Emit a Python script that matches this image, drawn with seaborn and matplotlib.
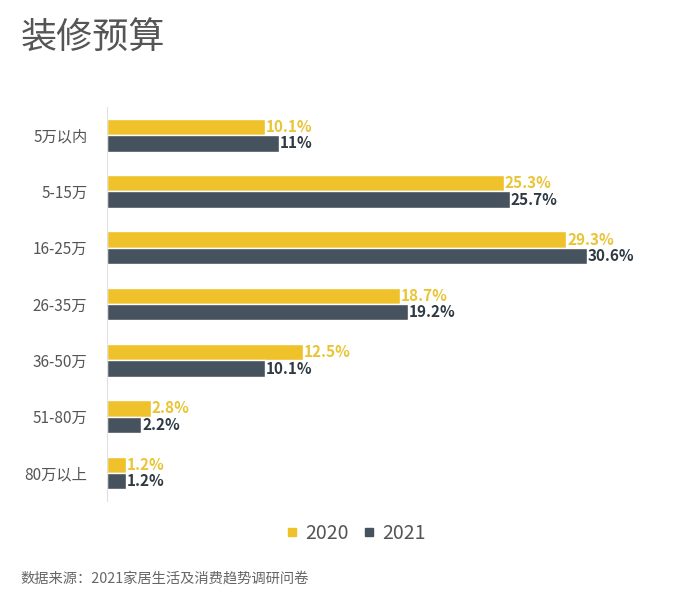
import matplotlib
matplotlib.use("Agg")
import matplotlib.pyplot as plt
import seaborn as sns
import pandas as pd

categories = ["5万以内", "5-15万", "16-25万", "26-35万", "36-50万", "51-80万", "80万以上"]
v2020 = [10.1, 25.3, 29.3, 18.7, 12.5, 2.8, 1.2]
v2021 = [11, 25.7, 30.6, 19.2, 10.1, 2.2, 1.2]
label2020 = ["10.1%", "25.3%", "29.3%", "18.7%", "12.5%", "2.8%", "1.2%"]
label2021 = ["11%", "25.7%", "30.6%", "19.2%", "10.1%", "2.2%", "1.2%"]
years = ["2020", "2021"]

sns.set_style("white")
plt.rcParams['font.family'] = ['Noto Sans CJK SC', 'DejaVu Sans']

df = pd.DataFrame({
    "cat": categories * 2,
    "val": v2020 + v2021,
    "year": [years[0]] * len(categories) + [years[1]] * len(categories),
})

c_yellow = "#EFC12A"
c_dark = "#46525D"

fig = plt.figure(figsize=(6.76, 6.03), dpi=100)
ax = fig.add_axes([0.158, 0.169, 0.812, 0.6535])
sns.barplot(data=df, y="cat", x="val", hue="year", order=categories,
            palette=[c_yellow, c_dark], width=0.58, gap=0.0, ax=ax,
            legend=False, saturation=1, errorbar=None)

ax.set_xlim(0, 35)
ax.set_ylim(6.5, -0.5)
ax.set_xlabel("")
ax.set_ylabel("")
ax.set_xticks([])
for s in ["top", "right", "bottom"]:
    ax.spines[s].set_visible(False)
ax.spines["left"].set_color("#e0e0e0")
ax.spines["left"].set_linewidth(0.8)
ax.tick_params(axis="y", length=0, pad=14, labelsize=11, labelcolor="#555555")

for cont, labels, col in zip(ax.containers, [label2020, label2021], ["#E9C435", "#2E3A44"]):
    for bar, lab in zip(cont, labels):
        ax.text(bar.get_width() + 0.05, bar.get_y() + bar.get_height() / 2, lab,
                va="center", ha="left", fontsize=11, fontweight="bold", color=col)

fig.text(0.03, 0.937, "装修预算", fontsize=26, color="#555555", va="center", ha="left")

# legend
from matplotlib.lines import Line2D
handles = [Line2D([0], [0], marker="s", linestyle="", markersize=6, color=c_yellow),
           Line2D([0], [0], marker="s", linestyle="", markersize=6, color=c_dark)]
fig.legend(handles, years, loc="center", bbox_to_anchor=(0.525, 0.115), ncol=2,
           frameon=False, fontsize=14, labelcolor="#555555", handletextpad=0.3,
           columnspacing=0.6, handlelength=0.8)

fig.text(0.03, 0.041, "数据来源：2021家居生活及消费趋势调研问卷", fontsize=10.3, color="#666666",
         va="center", ha="left")

fig.savefig("out.png", dpi=100)
